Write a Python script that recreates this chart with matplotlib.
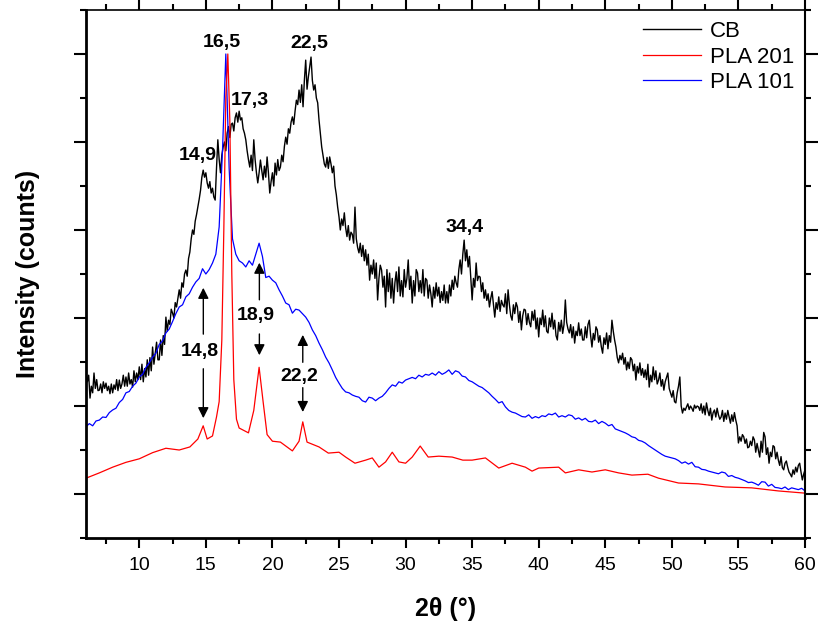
import matplotlib
matplotlib.use("Agg")
import matplotlib.pyplot as plt
import numpy as np
from matplotlib.ticker import MultipleLocator, FixedLocator, NullFormatter

plt.rcParams['font.family'] = ['Liberation Sans', 'DejaVu Sans']

# CB, sampled every 0.1 deg from 6 to 60
cb_x = np.round(np.arange(6.0, 60.05, 0.1), 2)
cb_y = [
    3.75, 3.55, 3.70, 3.18, 3.45, 3.30, 3.75, 3.40, 3.60, 3.35,
    3.36, 3.50, 3.30, 3.55, 3.40, 3.52, 3.35, 3.45, 3.28, 3.50,
    3.30, 3.48, 3.38, 3.60, 3.35, 3.59, 3.40, 3.50, 3.70, 3.45,
    3.66, 3.45, 3.75, 3.50, 3.60, 3.43, 3.80, 3.55, 3.75, 3.60,
    3.89, 3.60, 3.95, 3.55, 3.85, 3.66, 4.05, 3.70, 4.10, 3.80,
    4.34, 3.95, 4.20, 4.45, 4.05, 4.05, 4.50, 4.15, 4.60, 4.40,
    5.02, 4.70, 4.95, 4.85, 5.20, 5.11, 5.00, 5.35, 5.25, 5.45,
    5.64, 5.45, 5.80, 5.70, 6.00, 6.09, 5.95, 6.35, 6.50, 6.80,
    7.00, 6.90, 7.20, 7.35, 7.52, 7.70, 7.90, 8.20, 8.36, 8.20,
    8.30, 8.07, 7.95, 8.10, 7.84, 7.95, 7.75, 7.68, 8.40, 9.05,
    8.60, 8.30, 8.70, 8.89, 9.00, 8.80, 9.20, 9.35, 9.10, 9.40,
    9.43, 9.25, 9.55, 9.66, 9.45, 9.70, 9.50, 9.55, 9.30, 9.20,
    9.05, 8.80, 8.60, 8.43, 8.70, 8.35, 9.05, 8.60, 8.30, 8.07,
    8.30, 8.59, 8.35, 8.14, 8.45, 8.20, 8.66, 8.30, 7.84, 8.10,
    8.30, 8.00, 8.52, 8.25, 8.60, 8.35, 8.43, 8.70, 8.55, 8.90,
    9.11, 8.95, 9.30, 9.20, 9.45, 9.57, 9.40, 9.70, 9.95, 9.85,
    10.18, 9.90, 10.30, 9.80, 10.40, 10.86, 10.20, 10.48, 10.70, 10.93,
    10.40, 10.18, 10.30, 10.00, 9.89, 9.50, 9.20, 8.89, 8.70, 8.50,
    8.43, 8.65, 8.40, 8.66, 8.50, 8.30, 8.45, 8.00, 7.80, 7.52,
    7.30, 7.00, 7.25, 7.10, 7.39, 7.05, 6.85, 7.10, 6.77, 6.95,
    6.90, 6.70, 7.52, 6.80, 6.60, 6.48, 6.70, 6.40, 6.65, 6.30,
    6.55, 6.20, 6.45, 5.86, 6.20, 6.00, 6.32, 5.90, 6.25, 5.41,
    5.90, 6.20, 6.09, 5.70, 5.95, 5.25, 6.10, 5.60, 6.02, 5.45,
    5.90, 5.34, 5.80, 6.05, 5.60, 6.16, 5.50, 5.85, 5.48, 6.10,
    5.70, 5.90, 6.32, 5.65, 5.95, 5.34, 5.85, 5.50, 6.10, 6.02,
    5.60, 5.85, 5.57, 6.10, 5.50, 5.90, 5.86, 5.45, 5.75, 5.55,
    5.25, 5.70, 5.45, 5.80, 5.50, 5.70, 5.35, 5.60, 5.40, 5.75,
    5.34, 5.60, 5.34, 5.75, 5.50, 5.86, 5.65, 5.95, 5.80, 5.70,
    6.10, 6.32, 6.00, 6.45, 6.77, 6.30, 6.55, 6.16, 6.40, 5.90,
    5.41, 5.90, 5.70, 6.25, 5.85, 5.95, 5.93, 5.60, 5.80, 5.45,
    5.64, 5.40, 5.55, 5.25, 5.45, 5.60, 5.30, 5.02, 5.35, 5.20,
    5.48, 5.15, 5.40, 5.30, 5.25, 5.55, 5.10, 5.64, 5.30, 5.05,
    4.95, 5.30, 5.10, 5.35, 5.25, 4.90, 5.15, 4.73, 5.05, 5.20,
    5.18, 4.85, 5.10, 4.90, 4.80, 5.15, 4.95, 5.18, 4.75, 5.00,
    4.57, 5.00, 4.85, 5.18, 4.80, 5.05, 4.70, 4.66, 5.00, 4.80,
    5.11, 4.75, 4.95, 4.60, 4.50, 4.90, 4.70, 4.95, 4.65, 4.85,
    5.41, 4.90, 4.75, 4.66, 4.85, 4.55, 4.80, 4.43, 4.70, 4.60,
    4.89, 4.60, 4.75, 4.50, 4.50, 4.80, 4.55, 4.85, 4.95, 4.60,
    4.34, 4.65, 4.50, 4.80, 4.73, 4.45, 4.60, 4.35, 4.20, 4.55,
    4.40, 4.66, 4.30, 4.60, 4.45, 4.95, 4.70, 4.50, 4.34, 4.10,
    3.98, 4.15, 4.05, 4.20, 3.95, 4.10, 3.82, 4.00, 3.85, 4.10,
    4.05, 3.80, 3.95, 3.59, 3.90, 3.75, 3.98, 3.70, 3.85, 3.65,
    3.82, 3.60, 3.95, 3.43, 3.70, 3.55, 3.89, 3.60, 3.80, 3.50,
    3.59, 3.75, 3.45, 3.60, 3.36, 3.55, 3.65, 3.75, 3.40, 3.30,
    3.20, 3.35, 3.10, 3.07, 3.30, 3.45, 3.66, 3.00, 2.84, 2.95,
    2.90, 2.98, 3.05, 2.92, 3.00, 2.95, 2.88, 3.02, 2.95, 3.00,
    2.98, 2.90, 3.05, 2.84, 3.00, 2.80, 3.07, 2.90, 2.78, 2.95,
    2.68, 2.85, 2.91, 2.75, 2.95, 2.80, 2.70, 2.75, 2.90, 2.65,
    2.84, 2.70, 2.90, 2.75, 2.61, 2.80, 2.65, 2.85, 2.68, 2.55,
    2.16, 2.30, 2.20, 2.35, 2.30, 2.15, 2.25, 2.05, 2.07, 2.20,
    2.10, 2.30, 2.23, 1.95, 2.15, 2.00, 1.84, 2.20, 1.95, 2.40,
    2.30, 1.90, 2.05, 1.70, 1.95, 1.85, 2.10, 2.07, 1.80, 1.95,
    1.77, 1.65, 1.85, 1.60, 1.55, 1.70, 1.75, 1.61, 1.50, 1.45,
    1.39, 1.55, 1.45, 1.61, 1.50, 1.65, 1.70, 1.50, 1.32, 1.45,
    1.55]

# PLA 201
pla201_x = [6.0, 7.0, 8.0, 9.0, 10.0, 11.0, 12.0, 13.0, 13.8, 14.4, 14.8, 15.1, 15.5, 15.8,
            16.0, 16.2, 16.35, 16.5, 16.65, 16.8, 16.95, 17.1, 17.3, 17.5, 18.2, 18.6, 19.0,
            19.3, 19.6, 20.0, 20.6, 21.5, 22.0, 22.28, 22.6, 23.5, 24.2, 25.0, 25.5, 26.2,
            27.0, 27.5, 28.0, 28.5, 29.0, 29.5, 30.0, 30.5, 31.1, 31.7, 32.5, 33.5, 34.3,
            35.0, 36.0, 37.0, 38.0, 39.0, 39.5, 40.0, 41.5, 42.0, 43.0, 44.0, 45.0, 46.0,
            47.0, 48.2, 49.0, 50.5, 52.0, 54.0, 56.0, 58.0, 60.0]
pla201_y = [1.36, 1.48, 1.61, 1.72, 1.80, 1.94, 2.04, 2.00, 2.07, 2.25, 2.55, 2.25, 2.32, 2.75,
            3.10, 4.50, 7.00, 10.00, 11.00, 9.50, 6.00, 3.60, 2.70, 2.50, 2.39, 2.90, 3.88,
            3.10, 2.35, 2.20, 2.18, 1.98, 2.20, 2.64, 2.18, 2.07, 1.93, 1.95, 1.84, 1.70,
            1.77, 1.82, 1.61, 1.73, 1.95, 1.73, 1.70, 1.84, 2.09, 1.84, 1.86, 1.84, 1.77,
            1.77, 1.82, 1.59, 1.70, 1.61, 1.52, 1.59, 1.61, 1.48, 1.55, 1.50, 1.55, 1.48,
            1.43, 1.45, 1.36, 1.25, 1.23, 1.16, 1.14, 1.07, 1.02]

# PLA 101, sampled every 0.25 deg from 6 to 60
pla101_x = np.round(np.arange(6.0, 60.01, 0.25), 2)
pla101_y = [
    2.53, 2.60, 2.55, 2.66, 2.68, 2.75, 2.74, 2.85, 2.91, 2.95, 3.08, 3.15,
    3.30, 3.33, 3.45, 3.52, 3.66, 3.72, 3.88, 3.98, 4.11, 4.20, 4.40, 4.48,
    4.66, 4.75, 4.92, 5.10, 5.25, 5.30, 5.48, 5.55, 5.70, 5.82, 5.90, 6.12,
    6.00, 6.10, 6.25, 6.45, 7.07, 8.80, 11.00, 8.40, 6.80, 6.45, 6.30, 6.25,
    6.16, 6.30, 6.20, 6.45, 6.70, 6.40, 5.92, 5.95, 5.86, 5.80, 5.64, 5.50,
    5.34, 5.30, 5.11, 5.20, 5.18, 5.10, 5.02, 4.90, 4.73, 4.60, 4.43, 4.28,
    4.11, 3.98, 3.82, 3.65, 3.52, 3.40, 3.32, 3.30, 3.25, 3.22, 3.20, 3.12,
    3.09, 3.20, 3.18, 3.12, 3.18, 3.22, 3.30, 3.40, 3.48, 3.45, 3.55, 3.52,
    3.59, 3.62, 3.65, 3.62, 3.70, 3.66, 3.72, 3.70, 3.75, 3.70, 3.78, 3.72,
    3.76, 3.82, 3.72, 3.80, 3.77, 3.68, 3.66, 3.58, 3.55, 3.50, 3.45, 3.42,
    3.36, 3.30, 3.22, 3.15, 3.07, 3.10, 2.98, 2.90, 2.86, 2.84, 2.80, 2.76,
    2.75, 2.80, 2.72, 2.76, 2.73, 2.78, 2.76, 2.82, 2.80, 2.84, 2.75, 2.78,
    2.75, 2.80, 2.78, 2.70, 2.73, 2.68, 2.72, 2.65, 2.64, 2.68, 2.60, 2.65,
    2.61, 2.55, 2.58, 2.48, 2.45, 2.42, 2.39, 2.35, 2.30, 2.28, 2.22, 2.20,
    2.16, 2.10, 2.05, 2.00, 1.95, 1.90, 1.86, 1.84, 1.82, 1.80, 1.76, 1.70,
    1.73, 1.68, 1.72, 1.62, 1.61, 1.56, 1.55, 1.52, 1.50, 1.48, 1.46, 1.50,
    1.48, 1.40, 1.42, 1.38, 1.36, 1.33, 1.30, 1.26, 1.27, 1.24, 1.20, 1.28,
    1.27, 1.18, 1.22, 1.15, 1.14, 1.12, 1.16, 1.10, 1.14, 1.12, 1.10, 1.13,
    1.07]

peak_labels = ['16,5', '22,5', '17,3', '14,9', '34,4']
peak_pos = [(16.2, 11.25), (22.75, 11.23), (18.3, 9.95), (14.38, 8.7), (34.44, 7.05)]

arrow_labels = ['14,8', '18,9', '22,2']
arrow_x = [14.81, 19.02, 22.28]
arrow_text_y = [4.23, 5.05, 3.68]
arrow_up = [(4.57, 5.75), (5.35, 6.32), (3.93, 4.68)]
arrow_down = [(3.91, 2.66), (4.70, 4.09), (3.48, 2.80)]

fig = plt.figure(figsize=(8.2, 6.23), dpi=100)
ax = fig.add_axes([0.1049, 0.1364, 0.8768, 0.8476])

l1, = ax.plot(cb_x, cb_y, color='black', lw=1.0, label='CB')
l3, = ax.plot(pla101_x, pla101_y, color='#0000ff', lw=0.9, label='PLA 101')
l2, = ax.plot(pla201_x, pla201_y, color='#ff0000', lw=0.9, label='PLA 201')

for t, (px, py) in zip(peak_labels, peak_pos):
    ax.text(px, py, t, ha='center', va='center', fontsize=14, fontweight='bold')

for t, x, ty, up, dn in zip(arrow_labels, arrow_x, arrow_text_y, arrow_up, arrow_down):
    ax.text(x - 0.3, ty, t, ha='center', va='center', fontsize=14, fontweight='bold')
    ax.annotate('', xy=(x, up[1]), xytext=(x, up[0]),
                arrowprops=dict(arrowstyle='-|>', color='black', lw=1.0, mutation_scale=16))
    ax.annotate('', xy=(x, dn[1]), xytext=(x, dn[0]),
                arrowprops=dict(arrowstyle='-|>', color='black', lw=1.0, mutation_scale=16))

ax.set_xlim(6, 60)
ax.set_ylim(0, 12)
ax.xaxis.set_major_locator(MultipleLocator(5))
ax.xaxis.set_minor_locator(MultipleLocator(2.5))
ax.yaxis.set_major_locator(FixedLocator([1, 3, 5, 7, 9, 11]))
ax.yaxis.set_minor_locator(FixedLocator([0, 2, 4, 6, 8, 10, 12]))
ax.yaxis.set_major_formatter(NullFormatter())

ax.tick_params(which='major', direction='out', length=7, width=1.5, labelsize=14, pad=7)
ax.tick_params(which='minor', direction='out', length=4, width=1.5)
ax.tick_params(axis='y', which='major', length=9)
ax.tick_params(which='both', top=True, right=True)
ax.tick_params(axis='x', which='both', top=True, length=2)
ax.tick_params(axis='x', which='major', bottom=True, length=7)
ax.tick_params(axis='x', which='minor', bottom=True, length=4)

ax.spines['left'].set_linewidth(2)
ax.spines['bottom'].set_linewidth(2)
ax.spines['top'].set_linewidth(1.2)
ax.spines['right'].set_linewidth(1.5)

ax.set_xlabel('2θ (°)', fontsize=18, fontweight='bold', labelpad=16)
ax.set_ylabel('Intensity (counts)', fontsize=18, fontweight='bold', labelpad=17)

ax.legend(handles=[l1, l2, l3], loc='upper right', frameon=False, fontsize=16,
          handlelength=2.6, borderaxespad=0.1, labelspacing=0.2, handletextpad=0.4)

fig.savefig('out.png', dpi=100)
